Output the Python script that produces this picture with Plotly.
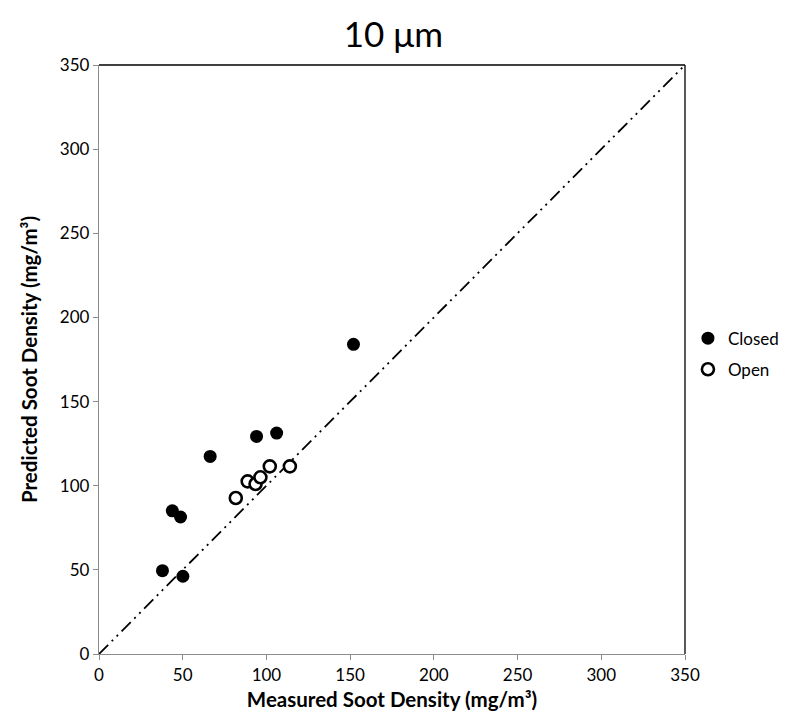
import plotly.graph_objects as go

# Data
closed_x = [37.9, 50.1, 43.8, 48.7, 66.4, 94.1, 106.1, 152.0]
closed_y = [49.5, 46.2, 85.1, 81.4, 117.4, 129.3, 131.3, 184.0]
open_x = [81.7, 88.8, 93.5, 96.4, 102.0, 114.0]
open_y = [92.7, 102.6, 101.0, 105.0, 111.5, 111.5]
line_x = [0, 350]
line_y = [0, 350]
ticks = [0, 50, 100, 150, 200, 250, 300, 350]

FONT = "Lato, 'Open Sans', sans-serif"

fig = go.Figure()
fig.add_trace(go.Scatter(x=line_x, y=line_y, mode="lines", showlegend=False,
                         line=dict(color="black", width=1.8, dash="13px,5px,2px,5px,2px,5px"),
                         hoverinfo="skip"))
fig.add_trace(go.Scatter(x=closed_x, y=closed_y, mode="markers", name="Closed",
                         legendgroup="c",
                         marker=dict(symbol="circle", size=13, color="black",
                                     line=dict(width=0))))
fig.add_trace(go.Scatter(x=open_x, y=open_y, mode="markers", name="Open",
                         legendgroup="o",
                         marker=dict(symbol="circle", size=12, color="white",
                                     line=dict(width=2.6, color="black"))))

axis_common = dict(range=[0, 350], tickvals=ticks, showgrid=False, zeroline=False,
                   showline=True, linecolor="#8c8c8c", linewidth=1.3,
                   ticks="outside", ticklen=5, tickcolor="#8c8c8c", tickwidth=1.3,
                   tickfont=dict(family=FONT, size=17, color="black"))

fig.update_layout(
    width=788, height=717,
    margin=dict(l=91, r=106, t=57, b=71),
    paper_bgcolor="white", plot_bgcolor="white",
    title=dict(text="10 μm", x=0.489, xanchor="center", y=0.962, yanchor="middle",
               font=dict(family=FONT, size=35, color="black")),
    xaxis=dict(**axis_common,
               title=dict(text="<b>Measured Soot Density (mg/m³)</b>", standoff=9,
                          font=dict(family=FONT, size=20.5, color="black"))),
    yaxis=dict(**axis_common,
               title=dict(text="<b>Predicted Soot Density (mg/m³)</b>", standoff=16,
                          font=dict(family=FONT, size=20.5, color="black"))),
    legend=dict(x=1.005, y=0.566, xanchor="left", yanchor="top",
                font=dict(family=FONT, size=17, color="black"),
                itemwidth=30, tracegroupgap=6, bgcolor="rgba(0,0,0,0)"),
    shapes=[
        dict(type="line", xref="paper", yref="paper", x0=0, x1=1, y0=1, y1=1,
             line=dict(color="black", width=1.3)),
        dict(type="line", xref="paper", yref="paper", x0=1, x1=1, y0=0, y1=1,
             line=dict(color="black", width=1.3)),
    ],
)

fig.write_html("out.html")
